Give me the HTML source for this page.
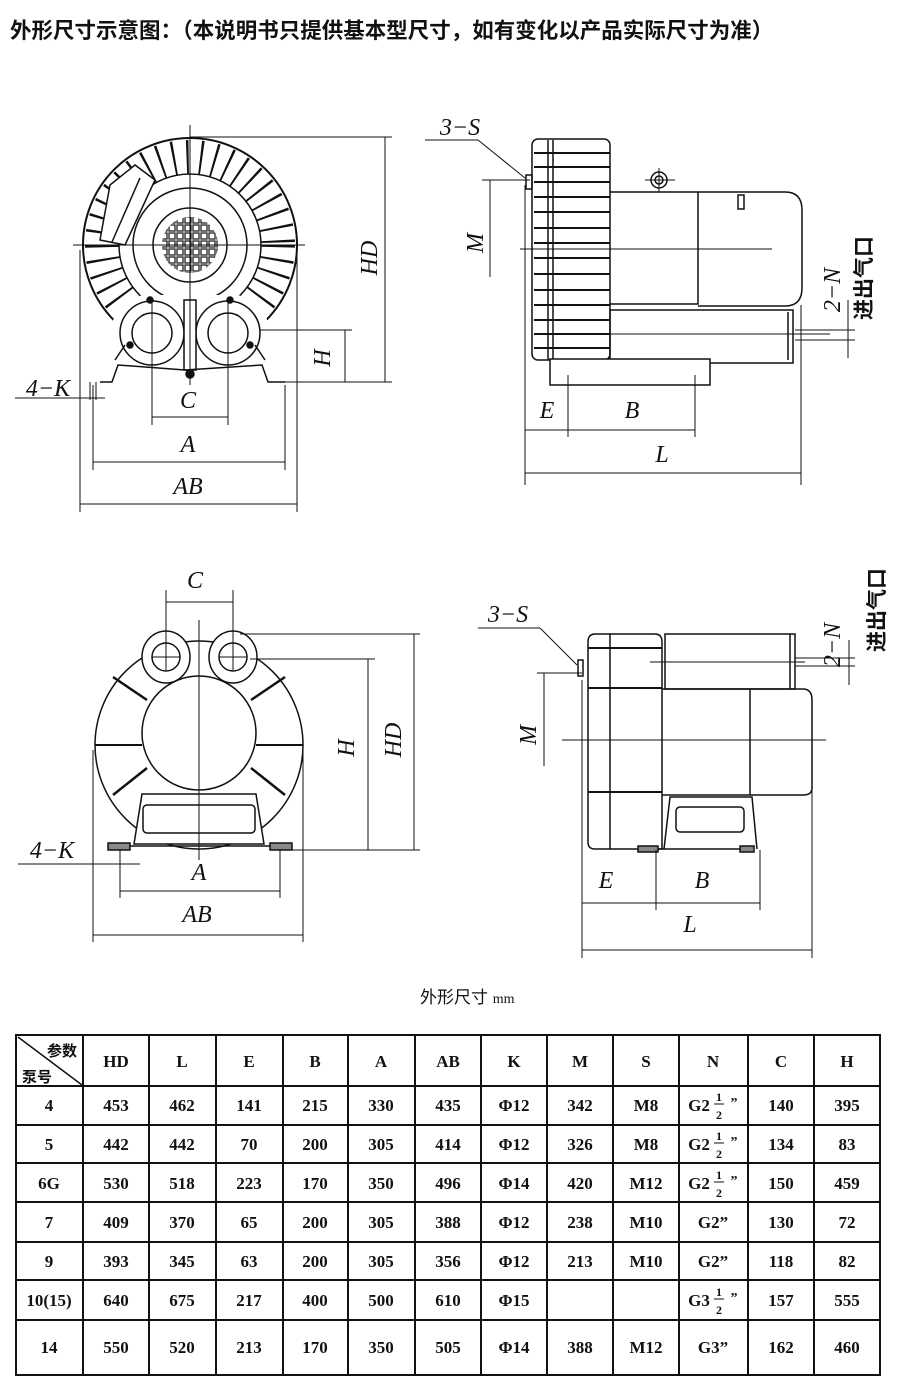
<!DOCTYPE html>
<html><head><meta charset="utf-8"><style>
html,body{margin:0;padding:0;background:#fff;}
svg{display:block;}
.t{font-family:"Liberation Serif","Noto Serif CJK SC",serif;font-weight:bold;font-size:17px;text-anchor:middle;fill:#111;}
.lab{font-family:"Liberation Serif",serif;font-style:italic;font-size:24px;fill:#111;text-anchor:middle;}
.cn{font-family:"Liberation Sans","Noto Sans CJK SC",sans-serif;fill:#111;}
</style></head><body>
<svg width="900" height="1390" viewBox="0 0 900 1390" xmlns="http://www.w3.org/2000/svg">
<defs>
<pattern id="sq" x="0" y="0" width="8" height="8" patternUnits="userSpaceOnUse">
<rect x="1" y="1" width="6" height="6" fill="none" stroke="#111" stroke-width="1.2"/>
</pattern>
<clipPath id="hub"><circle cx="190" cy="245" r="28"/></clipPath>
</defs>
<text x="10" y="38" class="cn" font-size="21.5" font-weight="bold">外形尺寸示意图：（本说明书只提供基本型尺寸，如有变化以产品实际尺寸为准）</text>

<!-- ===== TOP LEFT ===== -->
<g stroke="#111" fill="none" stroke-width="1.5">
<circle cx="190" cy="245" r="107" stroke-width="2"/>
<circle cx="190" cy="245" r="88" stroke-width="34" stroke-dasharray="2.2 11.5"/>
<circle cx="190" cy="245" r="71" fill="#fff"/>
<circle cx="190" cy="245" r="57" fill="#fff"/>
<circle cx="190" cy="245" r="37" fill="#fff"/>
<rect x="158" y="213" width="64" height="64" fill="url(#sq)" clip-path="url(#hub)" stroke="none"/>
<path d="M110 185 L135 165 L155 180 L125 245 L100 240 Z" fill="#fff"/>
<line x1="140" y1="178" x2="112" y2="242"/>
<path d="M110 330 Q120 290 160 295 L220 295 Q262 290 270 330 L270 365 L110 365 Z" fill="#fff" stroke="none"/>
<circle cx="152" cy="333" r="32" fill="#fff"/>
<circle cx="228" cy="333" r="32" fill="#fff"/>
<circle cx="152" cy="333" r="20"/>
<circle cx="228" cy="333" r="20"/>
<rect x="184" y="300" width="12" height="70" fill="#fff"/>
<path d="M100 382 L112 382 L118 365 L185 370 L262 365 L268 382 L285 382"/>
<path d="M115 360 L125 345 M265 360 L255 345"/>
<circle cx="190" cy="374" r="4" fill="#111"/>
<circle cx="150" cy="300" r="3" fill="#111"/><circle cx="230" cy="300" r="3" fill="#111"/>
<circle cx="130" cy="345" r="3" fill="#111"/><circle cx="250" cy="345" r="3" fill="#111"/>
</g>
<g stroke="#111" stroke-width="1" fill="none">
<line x1="73" y1="245" x2="305" y2="245"/>
<line x1="190" y1="125" x2="190" y2="385"/>
<line x1="190" y1="137" x2="392" y2="137"/>
<line x1="385" y1="137" x2="385" y2="382"/>
<line x1="260" y1="330" x2="352" y2="330"/>
<line x1="345" y1="330" x2="345" y2="382"/>
<line x1="285" y1="382" x2="392" y2="382"/>
<line x1="152" y1="300" x2="152" y2="425"/><line x1="228" y1="300" x2="228" y2="425"/>
<line x1="152" y1="417" x2="228" y2="417"/>
<line x1="93" y1="385" x2="93" y2="470"/><line x1="285" y1="385" x2="285" y2="470"/>
<line x1="93" y1="462" x2="285" y2="462"/>
<line x1="80" y1="250" x2="80" y2="512"/><line x1="297" y1="245" x2="297" y2="512"/>
<line x1="80" y1="504" x2="297" y2="504"/>
<line x1="15" y1="398" x2="105" y2="398"/>
<line x1="90" y1="382" x2="90" y2="400"/><line x1="96" y1="382" x2="96" y2="400"/>
</g>
<text x="188" y="408" class="lab">C</text>
<text x="188" y="452" class="lab">A</text>
<text x="188" y="494" class="lab">AB</text>
<text x="48" y="396" class="lab">4−K</text>
<text class="lab" transform="translate(377,258) rotate(-90)">HD</text>
<text class="lab" transform="translate(330,358) rotate(-90)">H</text>

<!-- ===== TOP RIGHT ===== -->
<g stroke="#111" fill="none" stroke-width="1.5">
<rect x="532" y="139" width="78" height="221" rx="6" fill="#fff"/>
<line x1="548" y1="140" x2="548" y2="360"/><line x1="553" y1="140" x2="553" y2="360"/>
<g stroke-width="2">
<line x1="534" y1="153" x2="610" y2="153"/><line x1="534" y1="167" x2="610" y2="167"/>
<line x1="534" y1="182" x2="610" y2="182"/><line x1="534" y1="197" x2="610" y2="197"/>
<line x1="534" y1="212" x2="610" y2="212"/><line x1="534" y1="228" x2="610" y2="228"/>
<line x1="534" y1="243" x2="610" y2="243"/><line x1="534" y1="258" x2="610" y2="258"/>
<line x1="534" y1="274" x2="610" y2="274"/><line x1="534" y1="290" x2="610" y2="290"/>
<line x1="534" y1="305" x2="610" y2="305"/><line x1="534" y1="320" x2="610" y2="320"/>
<line x1="534" y1="334" x2="610" y2="334"/><line x1="534" y1="348" x2="610" y2="348"/>
</g>
<rect x="526" y="175" width="6" height="14"/>
<path d="M610 192 L698 192 L698 304 L610 304"/>
<path d="M698 192 L785 192 Q802 192 802 210 L802 288 Q802 306 785 306 L698 306"/>
<rect x="738" y="195" width="6" height="14"/>
<rect x="610" y="310" width="183" height="53"/>
<line x1="788" y1="312" x2="788" y2="360"/>
<rect x="550" y="359" width="160" height="26" fill="#fff"/>
<circle cx="659" cy="180" r="8"/><circle cx="659" cy="180" r="4"/>
</g>
<g stroke="#111" stroke-width="1" fill="none">
<line x1="645" y1="180" x2="675" y2="180"/><line x1="659" y1="168" x2="659" y2="192"/>
<line x1="520" y1="249" x2="772" y2="249"/>
<line x1="610" y1="334" x2="830" y2="334"/>
<line x1="795" y1="330" x2="855" y2="330"/><line x1="795" y1="340" x2="855" y2="340"/>
<line x1="848" y1="300" x2="848" y2="358"/>
<line x1="425" y1="140" x2="478" y2="140"/><line x1="478" y1="140" x2="525" y2="178"/>
<line x1="482" y1="180" x2="530" y2="180"/>
<line x1="490" y1="180" x2="490" y2="277"/>
<line x1="525" y1="185" x2="525" y2="485"/>
<line x1="801" y1="305" x2="801" y2="485"/>
<line x1="568" y1="375" x2="568" y2="437"/><line x1="695" y1="375" x2="695" y2="437"/>
<line x1="525" y1="430" x2="695" y2="430"/>
<line x1="525" y1="473" x2="801" y2="473"/>
</g>
<text x="460" y="135" class="lab">3−S</text>
<text class="lab" transform="translate(483,243) rotate(-90)">M</text>
<text x="547" y="418" class="lab">E</text>
<text x="632" y="418" class="lab">B</text>
<text x="662" y="462" class="lab">L</text>
<text class="lab" transform="translate(840,290) rotate(-90)">2−N</text>
<text class="cn" font-size="21" font-weight="bold" transform="translate(871,320) rotate(-90)">进出气口</text>

<!-- ===== BOTTOM LEFT ===== -->
<g stroke="#111" fill="none" stroke-width="1.5">
<circle cx="199" cy="745" r="104"/>
<circle cx="199" cy="733" r="57" fill="#fff"/>
<path d="M147 700 L113 677 M251 700 L285 677 M147 768 L113 795 M251 768 L285 795" stroke-width="2.5"/>
<line x1="95" y1="745" x2="142" y2="745" stroke-width="2"/><line x1="256" y1="745" x2="303" y2="745" stroke-width="2"/>
<ellipse cx="166" cy="657" rx="24" ry="26" fill="#fff"/>
<ellipse cx="233" cy="657" rx="24" ry="26" fill="#fff"/>
<circle cx="166" cy="657" r="14"/><circle cx="233" cy="657" r="14"/>
<path d="M134 844 L142 794 L256 794 L264 844 Z" fill="#fff"/>
<rect x="143" y="805" width="112" height="28" rx="4"/>
<rect x="108" y="843" width="22" height="7" fill="#888"/>
<rect x="270" y="843" width="22" height="7" fill="#888"/>
<line x1="130" y1="846" x2="270" y2="846"/>
</g>
<g stroke="#111" stroke-width="1" fill="none">
<line x1="199" y1="620" x2="199" y2="860"/>
<line x1="152" y1="657" x2="180" y2="657"/><line x1="219" y1="657" x2="247" y2="657"/>
<line x1="166" y1="590" x2="166" y2="670"/><line x1="233" y1="590" x2="233" y2="670"/>
<line x1="166" y1="602" x2="233" y2="602"/>
<line x1="240" y1="634" x2="420" y2="634"/>
<line x1="250" y1="659" x2="375" y2="659"/>
<line x1="414" y1="634" x2="414" y2="850"/>
<line x1="368" y1="659" x2="368" y2="850"/>
<line x1="290" y1="850" x2="420" y2="850"/>
<line x1="120" y1="850" x2="120" y2="898"/><line x1="280" y1="850" x2="280" y2="898"/>
<line x1="120" y1="891" x2="280" y2="891"/>
<line x1="93" y1="750" x2="93" y2="942"/><line x1="303" y1="750" x2="303" y2="942"/>
<line x1="93" y1="935" x2="303" y2="935"/>
<line x1="18" y1="864" x2="140" y2="864"/>
</g>
<text x="195" y="588" class="lab">C</text>
<text x="199" y="880" class="lab">A</text>
<text x="197" y="922" class="lab">AB</text>
<text x="52" y="858" class="lab">4−K</text>
<text class="lab" transform="translate(401,740) rotate(-90)">HD</text>
<text class="lab" transform="translate(354,748) rotate(-90)">H</text>

<!-- ===== BOTTOM RIGHT ===== -->
<g stroke="#111" fill="none" stroke-width="1.5">
<path d="M595 634 L655 634 Q662 634 662 642 L662 849 L595 849 Q588 849 588 842 L588 642 Q588 634 595 634 Z"/>
<line x1="610" y1="634" x2="610" y2="849"/>
<line x1="588" y1="648" x2="662" y2="648" stroke-width="2"/>
<line x1="588" y1="688" x2="662" y2="688" stroke-width="2"/>
<line x1="588" y1="792" x2="662" y2="792" stroke-width="2"/>
<rect x="665" y="634" width="130" height="55"/>
<line x1="790" y1="634" x2="790" y2="689"/>
<path d="M662 689 L803 689 Q812 689 812 700 L812 788 Q812 795 803 795 L662 795"/>
<line x1="750" y1="689" x2="750" y2="795"/>
<path d="M664 849 L670 797 L752 797 L757 849"/>
<rect x="676" y="807" width="68" height="25" rx="4"/>
<rect x="638" y="846" width="20" height="6" fill="#888"/>
<rect x="740" y="846" width="14" height="6" fill="#888"/>
<line x1="658" y1="849" x2="740" y2="849"/>
<rect x="578" y="660" width="5" height="16"/>
</g>
<g stroke="#111" stroke-width="1" fill="none">
<line x1="562" y1="740" x2="826" y2="740"/>
<line x1="650" y1="662" x2="805" y2="662"/>
<line x1="795" y1="658" x2="855" y2="658"/><line x1="795" y1="666" x2="855" y2="666"/>
<line x1="849" y1="640" x2="849" y2="685"/>
<line x1="478" y1="628" x2="540" y2="628"/><line x1="540" y1="628" x2="577" y2="665"/>
<line x1="537" y1="673" x2="582" y2="673"/>
<line x1="544" y1="673" x2="544" y2="766"/>
<line x1="582" y1="680" x2="582" y2="958"/>
<line x1="812" y1="790" x2="812" y2="958"/>
<line x1="656" y1="850" x2="656" y2="910"/><line x1="760" y1="850" x2="760" y2="910"/>
<line x1="582" y1="903" x2="760" y2="903"/>
<line x1="582" y1="950" x2="812" y2="950"/>
</g>
<text x="508" y="622" class="lab">3−S</text>
<text class="lab" transform="translate(536,735) rotate(-90)">M</text>
<text x="606" y="888" class="lab">E</text>
<text x="702" y="888" class="lab">B</text>
<text x="690" y="932" class="lab">L</text>
<text class="lab" transform="translate(840,645) rotate(-90)">2−N</text>
<text class="cn" font-size="21" font-weight="bold" transform="translate(884,652) rotate(-90)">进出气口</text>

<!-- ===== TABLE ===== -->
<text x="420" y="1003" class="cn" font-size="17">外形尺寸 <tspan font-family="Liberation Serif" font-size="14">mm</tspan></text>
<g stroke="#111" stroke-width="2" fill="none">
<rect x="16" y="1035" width="864" height="340"/>
<line x1="16" y1="1086" x2="880" y2="1086"/>
<line x1="16" y1="1125" x2="880" y2="1125"/>
<line x1="16" y1="1163" x2="880" y2="1163"/>
<line x1="16" y1="1202" x2="880" y2="1202"/>
<line x1="16" y1="1242" x2="880" y2="1242"/>
<line x1="16" y1="1280" x2="880" y2="1280"/>
<line x1="16" y1="1320" x2="880" y2="1320"/>
<line x1="83" y1="1035" x2="83" y2="1375"/>
<line x1="149" y1="1035" x2="149" y2="1375"/>
<line x1="216" y1="1035" x2="216" y2="1375"/>
<line x1="283" y1="1035" x2="283" y2="1375"/>
<line x1="348" y1="1035" x2="348" y2="1375"/>
<line x1="415" y1="1035" x2="415" y2="1375"/>
<line x1="481" y1="1035" x2="481" y2="1375"/>
<line x1="547" y1="1035" x2="547" y2="1375"/>
<line x1="613" y1="1035" x2="613" y2="1375"/>
<line x1="679" y1="1035" x2="679" y2="1375"/>
<line x1="748" y1="1035" x2="748" y2="1375"/>
<line x1="814" y1="1035" x2="814" y2="1375"/>
<line x1="18" y1="1037" x2="82" y2="1085" stroke-width="1.5"/>
</g>
<text x="62" y="1056" class="cn" font-size="15" font-weight="bold" text-anchor="middle">参数</text>
<text x="37" y="1082" class="cn" font-size="15" font-weight="bold" text-anchor="middle">泵号</text>
<g class="t">
<text x="116" y="1067">HD</text><text x="182" y="1067">L</text><text x="249" y="1067">E</text><text x="315" y="1067">B</text><text x="381" y="1067">A</text><text x="448" y="1067">AB</text><text x="514" y="1067">K</text><text x="580" y="1067">M</text><text x="646" y="1067">S</text><text x="713" y="1067">N</text><text x="781" y="1067">C</text><text x="847" y="1067">H</text>

<text x="49" y="1111">4</text><text x="116" y="1111">453</text><text x="182" y="1111">462</text><text x="249" y="1111">141</text><text x="315" y="1111">215</text><text x="381" y="1111">330</text><text x="448" y="1111">435</text><text x="514" y="1111">Φ12</text><text x="580" y="1111">342</text><text x="646" y="1111">M8</text><text x="781" y="1111">140</text><text x="847" y="1111">395</text>

<text x="49" y="1150">5</text><text x="116" y="1150">442</text><text x="182" y="1150">442</text><text x="249" y="1150">70</text><text x="315" y="1150">200</text><text x="381" y="1150">305</text><text x="448" y="1150">414</text><text x="514" y="1150">Φ12</text><text x="580" y="1150">326</text><text x="646" y="1150">M8</text><text x="781" y="1150">134</text><text x="847" y="1150">83</text>

<text x="49" y="1189">6G</text><text x="116" y="1189">530</text><text x="182" y="1189">518</text><text x="249" y="1189">223</text><text x="315" y="1189">170</text><text x="381" y="1189">350</text><text x="448" y="1189">496</text><text x="514" y="1189">Φ14</text><text x="580" y="1189">420</text><text x="646" y="1189">M12</text><text x="781" y="1189">150</text><text x="847" y="1189">459</text>

<text x="49" y="1228">7</text><text x="116" y="1228">409</text><text x="182" y="1228">370</text><text x="249" y="1228">65</text><text x="315" y="1228">200</text><text x="381" y="1228">305</text><text x="448" y="1228">388</text><text x="514" y="1228">Φ12</text><text x="580" y="1228">238</text><text x="646" y="1228">M10</text><text x="713" y="1228">G2”</text><text x="781" y="1228">130</text><text x="847" y="1228">72</text>

<text x="49" y="1267">9</text><text x="116" y="1267">393</text><text x="182" y="1267">345</text><text x="249" y="1267">63</text><text x="315" y="1267">200</text><text x="381" y="1267">305</text><text x="448" y="1267">356</text><text x="514" y="1267">Φ12</text><text x="580" y="1267">213</text><text x="646" y="1267">M10</text><text x="713" y="1267">G2”</text><text x="781" y="1267">118</text><text x="847" y="1267">82</text>

<text x="49" y="1306">10(15)</text><text x="116" y="1306">640</text><text x="182" y="1306">675</text><text x="249" y="1306">217</text><text x="315" y="1306">400</text><text x="381" y="1306">500</text><text x="448" y="1306">610</text><text x="514" y="1306">Φ15</text><text x="781" y="1306">157</text><text x="847" y="1306">555</text>

<text x="49" y="1353">14</text><text x="116" y="1353">550</text><text x="182" y="1353">520</text><text x="249" y="1353">213</text><text x="315" y="1353">170</text><text x="381" y="1353">350</text><text x="448" y="1353">505</text><text x="514" y="1353">Φ14</text><text x="580" y="1353">388</text><text x="646" y="1353">M12</text><text x="713" y="1353">G3”</text><text x="781" y="1353">162</text><text x="847" y="1353">460</text>
</g>
<g class="t">
<text x="699" y="1111">G2</text><text x="719" y="1101" font-size="12">1</text><text x="719" y="1119" font-size="12">2</text><text x="734" y="1107" font-size="14">”</text>
<text x="699" y="1150">G2</text><text x="719" y="1140" font-size="12">1</text><text x="719" y="1158" font-size="12">2</text><text x="734" y="1146" font-size="14">”</text>
<text x="699" y="1189">G2</text><text x="719" y="1179" font-size="12">1</text><text x="719" y="1197" font-size="12">2</text><text x="734" y="1185" font-size="14">”</text>
<text x="699" y="1306">G3</text><text x="719" y="1296" font-size="12">1</text><text x="719" y="1314" font-size="12">2</text><text x="734" y="1302" font-size="14">”</text>
</g>
<g stroke="#111" stroke-width="1">
<line x1="714" y1="1104" x2="724" y2="1104"/><line x1="714" y1="1143" x2="724" y2="1143"/><line x1="714" y1="1182" x2="724" y2="1182"/><line x1="714" y1="1299" x2="724" y2="1299"/>
</g>
</svg>
</body></html>
